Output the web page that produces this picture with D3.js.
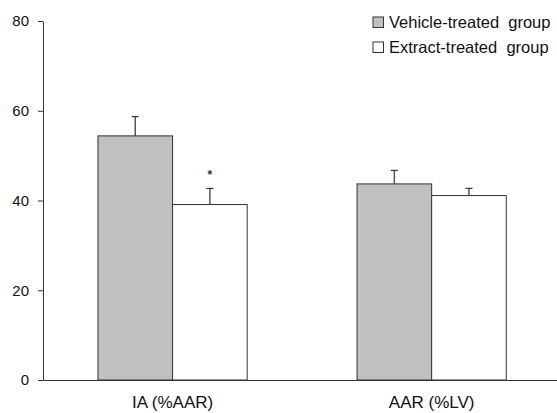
<!DOCTYPE html>
<meta charset="utf-8">
<script src="https://d3js.org/d3.v7.min.js"></script>
<style>
  body { margin: 0; background: #fff; }
  text { font-family: "Liberation Sans", Arial, sans-serif; }
</style>
<div id="chart"></div>
<script>

// data
var groups = ["IA (%AAR)", "AAR (%LV)"];
var series = ["Vehicle-treated  group", "Extract-treated  group"];
var vehicle = [54.4, 43.7];
var vehicleErr = [4.3, 3.0];
var extract = [39.1, 41.1];
var extractErr = [3.6, 1.6];
var yTicks = [0, 20, 40, 60, 80];
var colors = ["#c0c0c0", "#ffffff"];

var width = 557, height = 413;

var svg = d3.select("#chart")
  .append("svg")
    .attr("width", width)
    .attr("height", height);

// scales
var x = d3.scaleBand()
  .domain(groups)
  .range([43, 557])
  .paddingInner(0.424)
  .paddingOuter(0.204)
  .align(0.52);

var xInner = d3.scaleBand()
  .domain(series)
  .range([0, x.bandwidth()]);

var y = d3.scaleLinear()
  .domain([0, 80])
  .range([380, 21]);

// build rows for the bars
var rows = [];
groups.forEach(function(g, i) {
  rows.push({group: g, s: series[0], v: vehicle[i], e: vehicleErr[i], c: colors[0]});
  rows.push({group: g, s: series[1], v: extract[i], e: extractErr[i], c: colors[1]});
});

function cx(d) { return x(d.group) + xInner(d.s) + xInner.bandwidth() / 2; }

// error bars (drawn first, bars cover the lower half)
var err = svg.append("g");
err.selectAll("line.stem")
  .data(rows)
  .enter().append("line")
    .attr("x1", cx)
    .attr("x2", cx)
    .attr("y1", function(d) { return y(d.v); })
    .attr("y2", function(d) { return y(d.v + d.e); })
    .attr("stroke", "#555")
    .attr("stroke-width", 1.5);
err.selectAll("line.cap")
  .data(rows)
  .enter().append("line")
    .attr("x1", function(d) { return cx(d) - 3.5; })
    .attr("x2", function(d) { return cx(d) + 3.5; })
    .attr("y1", function(d) { return y(d.v + d.e); })
    .attr("y2", function(d) { return y(d.v + d.e); })
    .attr("stroke", "#333")
    .attr("stroke-width", 1.2);

// bars
svg.append("g").selectAll("rect")
  .data(rows)
  .enter().append("rect")
    .attr("x", function(d) { return x(d.group) + xInner(d.s); })
    .attr("y", function(d) { return y(d.v); })
    .attr("width", xInner.bandwidth())
    .attr("height", function(d) { return y(0) - y(d.v); })
    .attr("fill", function(d) { return d.c; })
    .attr("stroke", "#333")
    .attr("stroke-width", 1);

// significance star
svg.append("text")
  .attr("x", x(groups[0]) + xInner(series[1]) + xInner.bandwidth() / 2)
  .attr("y", y(extract[0] + extractErr[0]) - 9)
  .attr("text-anchor", "middle")
  .style("font-size", "12px")
  .style("font-weight", "bold")
  .style("fill", "#333")
  .text("*");

// y axis
var yAxis = svg.append("g")
  .attr("transform", "translate(43,0)")
  .call(d3.axisLeft(y).tickValues(yTicks).tickSize(5).tickSizeOuter(0).tickPadding(9));
yAxis.select(".domain").attr("stroke", "#333");
yAxis.selectAll(".tick line").attr("stroke", "#333");
yAxis.selectAll(".tick text")
  .style("font-size", "15px")
  .style("font-family", "'Liberation Sans', Arial, sans-serif")
  .attr("fill", "#111");

// x axis
var xAxis = svg.append("g")
  .attr("transform", "translate(0,380)")
  .call(d3.axisBottom(x).tickSize(0).tickSizeOuter(0).tickPadding(16));
xAxis.select(".domain").attr("stroke", "#333");
xAxis.selectAll(".tick text")
  .style("font-size", "17px")
  .style("font-family", "'Liberation Sans', Arial, sans-serif")
  .attr("fill", "#111");

// legend
var legend = svg.append("g").selectAll("g")
  .data(series)
  .enter().append("g")
    .attr("transform", function(d, i) { return "translate(373," + (17 + i * 25) + ")"; });
legend.append("rect")
  .attr("width", 10.5)
  .attr("height", 10.5)
  .attr("fill", function(d, i) { return colors[i]; })
  .attr("stroke", "#333");
legend.append("text")
  .attr("x", 16)
  .attr("y", 11)
  .style("font-size", "16.5px")
  .style("fill", "#111")
  .style("white-space", "pre")
  .text(function(d) { return d; });

</script>
